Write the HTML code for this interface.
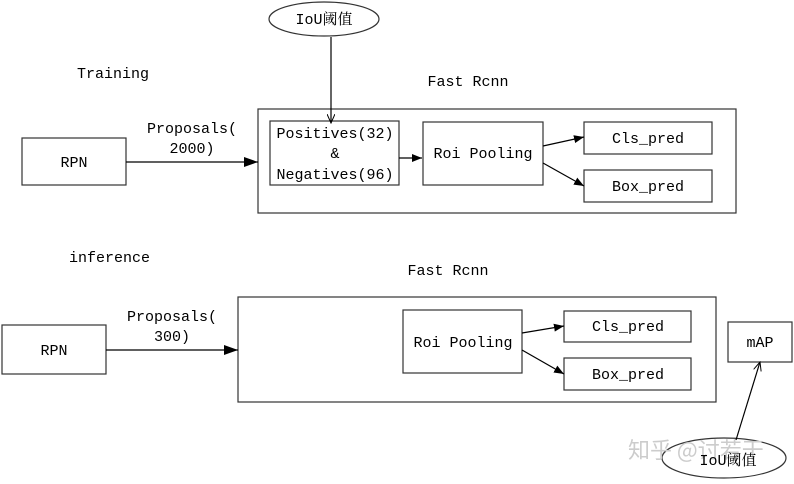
<!DOCTYPE html>
<html><head><meta charset="utf-8"><style>
body{margin:0;background:#fff;}
svg text{font-family:"Liberation Mono","Noto Serif CJK SC",monospace;font-size:15px;fill:#000;}
</style></head><body>
<svg width="794" height="479" viewBox="0 0 794 479" xmlns="http://www.w3.org/2000/svg">
<defs>
<marker id="f" markerWidth="10" markerHeight="8" refX="10" refY="4" orient="auto" markerUnits="userSpaceOnUse"><path d="M0,0 L10,4 L0,8 z" fill="#000"/></marker>
<marker id="o" markerWidth="10" markerHeight="8" refX="9" refY="4" orient="auto" markerUnits="userSpaceOnUse"><path d="M0,0 L9,4 L0,8" fill="none" stroke="#000"/></marker>
<marker id="b" markerWidth="14" markerHeight="10" refX="14" refY="5" orient="auto" markerUnits="userSpaceOnUse"><path d="M0,0 L14,5 L0,10 z" fill="#000"/></marker>
</defs>
<g fill="none" stroke="#333" stroke-width="1.2">
<ellipse cx="324" cy="19" rx="55" ry="17"/>
<rect x="22" y="138" width="104" height="47"/>
<rect x="258" y="109" width="478" height="104"/>
<rect x="270" y="121" width="129" height="64"/>
<rect x="423" y="122" width="120" height="63"/>
<rect x="584" y="122" width="128" height="32"/>
<rect x="584" y="170" width="128" height="32"/>
<rect x="2" y="325" width="104" height="49"/>
<rect x="238" y="297" width="478" height="105"/>
<rect x="403" y="310" width="119" height="63"/>
<rect x="564" y="311" width="127" height="31"/>
<rect x="564" y="358" width="127" height="32"/>
<rect x="728" y="322" width="64" height="40"/>
<ellipse cx="724" cy="458" rx="62" ry="20"/>
</g>
<g stroke="#000" stroke-width="1.2" fill="none">
<line x1="331" y1="37" x2="331" y2="123" marker-end="url(#o)"/>
<line x1="126" y1="162" x2="258" y2="162" marker-end="url(#b)"/>
<line x1="399" y1="158" x2="422" y2="158" marker-end="url(#f)"/>
<line x1="543" y1="146" x2="584" y2="137" marker-end="url(#f)"/>
<line x1="543" y1="163" x2="584" y2="186" marker-end="url(#f)"/>
<line x1="106" y1="350" x2="238" y2="350" marker-end="url(#b)"/>
<line x1="522" y1="333" x2="564" y2="326" marker-end="url(#f)"/>
<line x1="522" y1="350" x2="564" y2="374" marker-end="url(#f)"/>
<line x1="736" y1="440" x2="760" y2="362" marker-end="url(#o)"/>
</g>
<text x="324" y="24" text-anchor="middle">IoU阈值</text>
<text x="77" y="78">Training</text>
<text x="468" y="86" text-anchor="middle">Fast Rcnn</text>
<text x="74" y="167" text-anchor="middle">RPN</text>
<text x="192" y="133" text-anchor="middle">Proposals(</text>
<text x="192" y="153" text-anchor="middle">2000)</text>
<text x="335" y="138" text-anchor="middle">Positives(32)</text>
<text x="335" y="158" text-anchor="middle">&amp;</text>
<text x="335" y="179" text-anchor="middle">Negatives(96)</text>
<text x="483" y="158" text-anchor="middle">Roi Pooling</text>
<text x="648" y="143" text-anchor="middle">Cls_pred</text>
<text x="648" y="191" text-anchor="middle">Box_pred</text>
<text x="69" y="262">inference</text>
<text x="448" y="275" text-anchor="middle">Fast Rcnn</text>
<text x="54" y="355" text-anchor="middle">RPN</text>
<text x="172" y="321" text-anchor="middle">Proposals(</text>
<text x="172" y="341" text-anchor="middle">300)</text>
<text x="463" y="347" text-anchor="middle">Roi Pooling</text>
<text x="628" y="331" text-anchor="middle">Cls_pred</text>
<text x="628" y="379" text-anchor="middle">Box_pred</text>
<text x="760" y="347" text-anchor="middle">mAP</text>
<text x="628" y="458" style="font-size:22px;fill:#ccc;font-family:'Noto Sans CJK SC',sans-serif">知乎 @讨若干</text>
<text x="728" y="465" text-anchor="middle">IoU阈值</text>
</svg>
</body></html>
